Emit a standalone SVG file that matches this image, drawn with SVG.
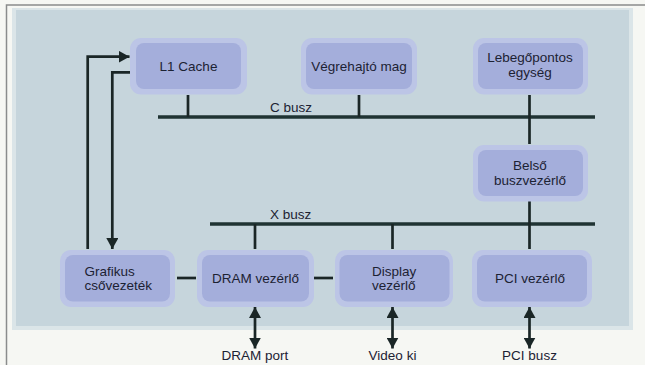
<svg xmlns="http://www.w3.org/2000/svg" width="645" height="365" viewBox="0 0 645 365">
<style>
.halo{fill:#bcc5e6;}
.box{fill:#a4aedb;}
.t{font-family:"Liberation Sans",Arial,sans-serif;font-size:13.5px;fill:#1c2233;}
.tm{text-anchor:middle;}
.bus{stroke:#1f3333;stroke-width:3.6;fill:none;}
.ln{stroke:#1a2626;stroke-width:2.7;fill:none;}
</style>
<defs>
<marker id="ah" markerUnits="userSpaceOnUse" markerWidth="12" markerHeight="12" refX="10" refY="5.5" orient="auto-start-reverse" viewBox="0 0 11 11">
<path d="M0,0 L10,5.5 L0,11 Z" fill="#1a2626"/>
</marker>
</defs>
<rect x="0" y="0" width="645" height="365" fill="#f6f7f3"/>
<rect x="6.5" y="5" width="640" height="365" fill="none" stroke="#8a8c8c" stroke-width="1.5"/>
<rect x="12" y="8" width="621" height="322" fill="#dbe5e8"/>
<rect x="16" y="10" width="613" height="316" fill="#c6d5dc"/>

<g id="connectors">
<line class="bus" x1="158" y1="117" x2="595" y2="117"/>
<line class="bus" x1="210" y1="224" x2="595" y2="224"/>
<line class="ln" x1="188" y1="95" x2="188" y2="117"/>
<line class="ln" x1="359" y1="95" x2="359" y2="117"/>
<line class="ln" x1="529.5" y1="95" x2="529.5" y2="144"/>
<line class="ln" x1="529.5" y1="201" x2="529.5" y2="249"/>
<line class="ln" x1="255" y1="224" x2="255" y2="249"/>
<line class="ln" x1="392.5" y1="224" x2="392.5" y2="249"/>
<line class="ln" x1="177" y1="278" x2="196" y2="278"/>
<line class="ln" x1="314" y1="278" x2="333" y2="278"/>
<path class="ln" d="M87.7,249 V56.7 H129.5" marker-end="url(#ah)"/>
<path class="ln" d="M135,72.3 H112.3 V249" marker-end="url(#ah)"/>
<line class="ln" x1="255" y1="307" x2="255" y2="348.5" marker-start="url(#ah)" marker-end="url(#ah)"/>
<line class="ln" x1="392.5" y1="307" x2="392.5" y2="348.5" marker-start="url(#ah)" marker-end="url(#ah)"/>
<line class="ln" x1="529.5" y1="307" x2="529.5" y2="348.5" marker-start="url(#ah)" marker-end="url(#ah)"/>
<text class="t" x="270" y="111.5" font-size="13">C busz</text>
<text class="t" x="270" y="219" font-size="13">X busz</text>
<text class="t tm" x="255" y="360">DRAM port</text>
<text class="t tm" x="392.5" y="360">Video ki</text>
<text class="t tm" x="529.5" y="360">PCI busz</text>
</g>

<g id="l1cache">
<rect class="halo" x="130" y="38" width="117" height="56.5" rx="11"/>
<rect class="box" x="136" y="43" width="105" height="46" rx="8"/>
<text class="t tm" x="188.5" y="70.5">L1 Cache</text>
</g>
<g id="vegrehajto">
<rect class="halo" x="301" y="38" width="116" height="56.5" rx="11"/>
<rect class="box" x="306" y="43" width="106" height="46" rx="8"/>
<text class="t tm" x="359" y="70.5">Végrehajtó mag</text>
</g>
<g id="lebegopontos">
<rect class="halo" x="473" y="38" width="115" height="56.5" rx="11"/>
<rect class="box" x="478" y="43" width="105" height="46" rx="8"/>
<text class="t tm" x="530" y="62">Lebegőpontos</text>
<text class="t tm" x="530" y="76.5">egység</text>
</g>
<g id="belso">
<rect class="halo" x="473" y="145" width="115" height="56.5" rx="11"/>
<rect class="box" x="478" y="150" width="105" height="46" rx="8"/>
<text class="t tm" x="530" y="170">Belső</text>
<text class="t tm" x="530" y="185">buszvezérlő</text>
</g>
<g id="grafikus">
<rect class="halo" x="60" y="250" width="115" height="57" rx="11"/>
<rect class="box" x="65" y="255" width="105" height="46.5" rx="8"/>
<text class="t" x="84.5" y="275.5">Grafikus</text>
<text class="t" x="84.5" y="290">csővezeték</text>
</g>
<g id="dram">
<rect class="halo" x="197" y="250" width="117" height="57" rx="11"/>
<rect class="box" x="202" y="255" width="107" height="46.5" rx="8"/>
<text class="t tm" x="255.5" y="283">DRAM vezérlő</text>
</g>
<g id="display">
<rect class="halo" x="335" y="250" width="118" height="57" rx="11"/>
<rect class="box" x="339.5" y="255" width="110" height="46.5" rx="8"/>
<text class="t" x="372" y="275.5">Display</text>
<text class="t" x="372" y="290">vezérlő</text>
</g>
<g id="pci">
<rect class="halo" x="472" y="250" width="120" height="57" rx="11"/>
<rect class="box" x="477" y="255" width="110" height="46.5" rx="8"/>
<text class="t tm" x="530" y="283">PCI vezérlő</text>
</g>
</svg>
